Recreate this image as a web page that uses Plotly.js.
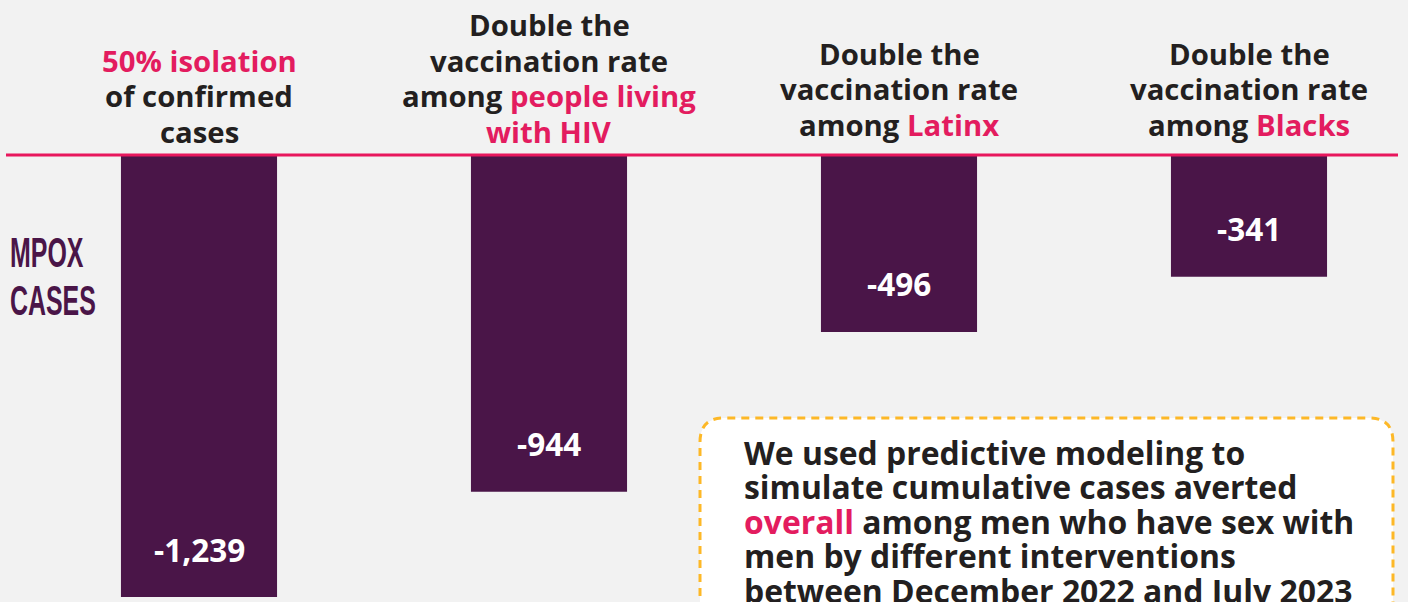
<!DOCTYPE html>
<html>
<head>
<meta charset="utf-8">
<script src="https://cdn.plot.ly/plotly-3.0.1.min.js"></script>
<style>
html,body{margin:0;padding:0;background:#f2f2f2;}
#chart{width:1408px;height:602px;}
</style>
</head>
<body>
<div id="chart"></div>
<script>
// ---- data ----
const categories = [
  '<span style="color:#e31c5f">50% isolation</span><br>of confirmed<br>cases',
  'Double the<br>vaccination rate<br>among <span style="color:#e31c5f">people living</span><br><span style="color:#e31c5f">with HIV</span>',
  'Double the<br>vaccination rate<br>among <span style="color:#e31c5f">Latinx</span>',
  'Double the<br>vaccination rate<br>among <span style="color:#e31c5f">Blacks</span>'
];
const casesAverted = [-1239, -944, -496, -341];
const valueLabels = ['-1,239', '-944', '-496', '-341'];
const yAxisLabel = ['MPOX', 'CASES'];
const noteLines = [
  'We used predictive modeling to',
  'simulate cumulative cases averted',
  '<span style="color:#e31c5f">overall</span> among men who have sex with',
  'men by different interventions',
  'between December 2022 and July 2023'
];

// ---- layout geometry ----
const W = 1408, H = 602;
const mL = 24, mT = 155;
const pw = W - mL, ph = H - mT;
const px2x = p => (p - mL) / pw;
const py2y = p => (H - p) / ph;

const purple = '#4a1548';
const pink = '#e31c5f';
const dark = '#231f20';
const font = 'Open Sans, DejaVu Sans, sans-serif';

const xs = categories.map((_, i) => i);

const trace = {
  type: 'bar',
  x: xs,
  y: casesAverted,
  width: 0.446,
  marker: {color: purple},
  hoverinfo: 'skip'
};

const labelBottom = [132, 132, 125, 125];
const annotations = [];
// category labels, one annotation per line so line spacing matches
categories.forEach((c, i) => {
  const lines = c.split('<br>');
  const n = lines.length;
  lines.forEach((ln, k) => {
    annotations.push({
      x: i, xref: 'x', y: py2y(labelBottom[i] - (n - 1 - k) * 35.7), yref: 'paper',
      yanchor: 'middle', xanchor: 'center',
      text: ln, showarrow: false, align: 'center',
      font: {family: font, size: 29.3, color: dark, weight: 'bold'}
    });
  });
});
casesAverted.forEach((v, i) => {
  annotations.push({
    x: i, xref: 'x', y: v, yref: 'y',
    yanchor: 'middle', xanchor: 'center', yshift: 48,
    text: valueLabels[i], showarrow: false,
    font: {family: font, size: 31.5, color: '#ffffff', weight: 'bold'}
  });
});
yAxisLabel.forEach((t, k) => {
  annotations.push({
    x: px2x(8), xref: 'paper', y: py2y(252 + k * 48), yref: 'paper',
    xanchor: 'left', yanchor: 'middle',
    text: t, showarrow: false, align: 'left',
    font: {family: 'Liberation Sans, Arial, sans-serif', size: 43, color: purple, weight: 'bold'}
  });
});
noteLines.forEach((t, k) => {
  annotations.push({
    x: px2x(742), xref: 'paper', y: py2y(452 + k * 34.6), yref: 'paper',
    xanchor: 'left', yanchor: 'middle',
    text: t, showarrow: false, align: 'left',
    font: {family: font, size: 31.9, color: dark, weight: 'bold'}
  });
});

// rounded dashed box
const bx0 = 700, bx1 = 1393, by0 = 418, by1 = 680, r = 24;
const P = (x, y) => px2x(x).toFixed(5) + ',' + py2y(y).toFixed(5);
const boxPath = 'M' + P(bx0, by1) +
  ' L' + P(bx0, by0 + r) +
  ' Q' + P(bx0, by0) + ' ' + P(bx0 + r, by0) +
  ' L' + P(bx1 - r, by0) +
  ' Q' + P(bx1, by0) + ' ' + P(bx1, by0 + r) +
  ' L' + P(bx1, by1) + ' Z';

const shapes = [
  {type: 'path', xref: 'paper', yref: 'paper', path: boxPath,
   fillcolor: '#ffffff', line: {color: '#fdb827', width: 3, dash: '8px,6px'}, layer: 'below'},
  // zero baseline (top of plot area) in pink
  {type: 'line', xref: 'paper', yref: 'paper', x0: px2x(6), x1: px2x(1398), y0: 1, y1: 1,
   line: {color: '#e8175d', width: 3}, layer: 'above'}
];

const layout = {
  width: W, height: H,
  margin: {l: mL, r: 0, t: mT, b: 0, pad: 0},
  paper_bgcolor: '#f2f2f2',
  plot_bgcolor: 'rgba(0,0,0,0)',
  showlegend: false,
  xaxis: {range: [-0.5, -0.5 + pw / 350], visible: false, fixedrange: true},
  yaxis: {range: [-(ph / (442 / 1239)), 0], visible: false, fixedrange: true},
  annotations: annotations,
  shapes: shapes,
  font: {family: font}
};

Plotly.newPlot('chart', [trace], layout, {displayModeBar: false, staticPlot: true}).then(gd => {
  // condense the MPOX / CASES label horizontally (condensed display face)
  gd.querySelectorAll('.annotation-text').forEach(t => {
    const s = t.textContent;
    if (yAxisLabel.indexOf(s) >= 0) {
      const bb = t.getBBox();
      const x0 = bb.x;
      t.setAttribute('transform', 'translate(' + x0 + ',0) scale(0.58,1) translate(' + (-x0) + ',0)');
    }
  });
});
</script>
</body>
</html>
